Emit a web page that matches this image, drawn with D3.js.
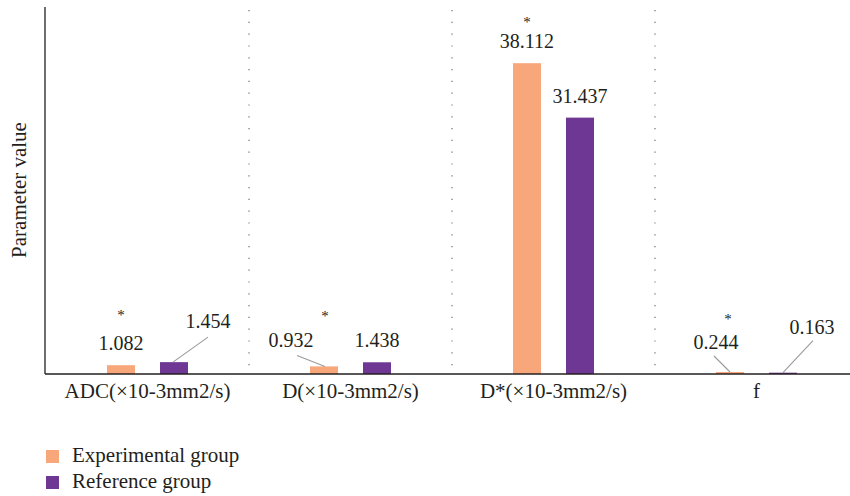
<!DOCTYPE html>
<html>
<head>
<meta charset="utf-8">
<script src="https://cdn.jsdelivr.net/npm/d3@7"></script>
<style>
  html, body { margin: 0; padding: 0; background: #fff; }
  svg { display: block; }
  text { font-family: "Liberation Serif", "DejaVu Serif", serif; fill: #231f20; }
</style>
</head>
<body>
<svg id="chart" width="850" height="496"></svg>
<script>
// Parameter values per category
const categories = ["ADC(×10-3mm2/s)", "D(×10-3mm2/s)", "D*(×10-3mm2/s)", "f"];
const seriesNames = ["Experimental group", "Reference group"];
const experimental = [1.082, 0.932, 38.112, 0.244];
const reference = [1.454, 1.438, 31.437, 0.163];
const significant = [true, true, true, true];
const colors = ["#f7a77a", "#6f3794"];

// Label layout per bar, relative to bar centre / bar top:
// label [dx, dy]; leader start offset from label [lx, ly] (null = no leader); leader end dx at bar top
const labelLayout = [
  [{ d: [0, -15], lead: null }, { d: [34, -34], lead: [0, 9], end: -1 }],
  [{ d: [-33, -19], lead: [6, 8], end: 1 }, { d: [0, -15], lead: null }],
  [{ d: [0, -15], lead: null }, { d: [0, -15], lead: null }],
  [{ d: [-14, -23], lead: [-2, 7], end: 0 }, { d: [29, -39], lead: [1, 7], end: 0 }]
];
// Significance mark offset from the experimental bar centre / top
const starLayout = [[0, -52], [1, -52], [0, -43], [-2, -55]];

const svg = d3.select("#chart");
const W = 850;
const left = 46;

const x = d3.scaleBand().domain(categories).range([46, 858]);
const y = d3.scaleLinear().domain([0, 45]).range([374, 7]);
const barW = 28, firstOffset = 61, gap = 25;

const g = svg.append("g");

// Dotted separators between categories
categories.slice(1).forEach(c => {
  g.append("line")
    .attr("x1", x(c)).attr("x2", x(c))
    .attr("y1", y(45) + 3).attr("y2", y(0) - 2)
    .attr("stroke", "#6d6e71").attr("stroke-width", 1.2)
    .attr("stroke-dasharray", "1.2,10.6");
});

const rows = categories.map((c, i) => ({ c, i, vals: [experimental[i], reference[i]] }));
const barCenter = (c, s) => x(c) + firstOffset + s * (barW + gap) + barW / 2;

// Bars
rows.forEach(r => {
  r.vals.forEach((v, s) => {
    g.append("rect")
      .attr("x", barCenter(r.c, s) - barW / 2).attr("width", barW)
      .attr("y", y(v)).attr("height", y(0) - y(v))
      .attr("fill", colors[s]);
  });
});

// Value labels, leader lines, significance marks
rows.forEach(r => {
  r.vals.forEach((v, s) => {
    const cx = barCenter(r.c, s);
    const top = y(v);
    const L = labelLayout[r.i][s];
    const lx = cx + L.d[0], ly = top + L.d[1];
    g.append("text")
      .attr("x", lx).attr("y", ly)
      .attr("text-anchor", "middle")
      .attr("font-size", 20)
      .text(d3.format(".3f")(v));
    if (L.lead) {
      g.append("line")
        .attr("x1", lx + L.lead[0]).attr("y1", ly + L.lead[1])
        .attr("x2", cx + L.end).attr("y2", top)
        .attr("stroke", "#9a9a9a").attr("stroke-width", 1.1);
    }
  });
  if (significant[r.i]) {
    const cx = barCenter(r.c, 0);
    const [sx, sy] = starLayout[r.i];
    g.append("text")
      .attr("x", cx + sx).attr("y", y(experimental[r.i]) + sy + 7)
      .attr("text-anchor", "middle")
      .attr("font-size", 15)
      .text("*");
  }
});

// Axes
g.append("line")
  .attr("x1", left - 1).attr("x2", W)
  .attr("y1", y(0)).attr("y2", y(0))
  .attr("stroke", "#231f20").attr("stroke-width", 1.3);
g.append("line")
  .attr("x1", left - 1).attr("x2", left - 1)
  .attr("y1", y(45)).attr("y2", y(0))
  .attr("stroke", "#231f20").attr("stroke-width", 1.3);

// Category labels
const xAxis = d3.axisBottom(x).tickSize(0).tickPadding(0);
const ax = g.append("g").attr("transform", `translate(0,${y(0)})`).call(xAxis);
ax.select(".domain").remove();
ax.attr("font-size", null).attr("font-family", null);
ax.selectAll("text")
  .attr("y", 24).attr("dy", 0)
  .attr("font-size", 21)
  .attr("fill", "#231f20");

// Y axis title
g.append("text")
  .attr("transform", "translate(26,190) rotate(-90)")
  .attr("text-anchor", "middle")
  .attr("font-size", 21)
  .text("Parameter value");

// Legend
const lg = g.append("g");
seriesNames.forEach((n, i) => {
  lg.append("rect")
    .attr("x", 46).attr("y", 450 + i * 26)
    .attr("width", 13).attr("height", 13)
    .attr("fill", colors[i]);
  lg.append("text")
    .attr("x", 72).attr("y", 462 + i * 26)
    .attr("font-size", 21)
    .text(n);
});
</script>
</body>
</html>
